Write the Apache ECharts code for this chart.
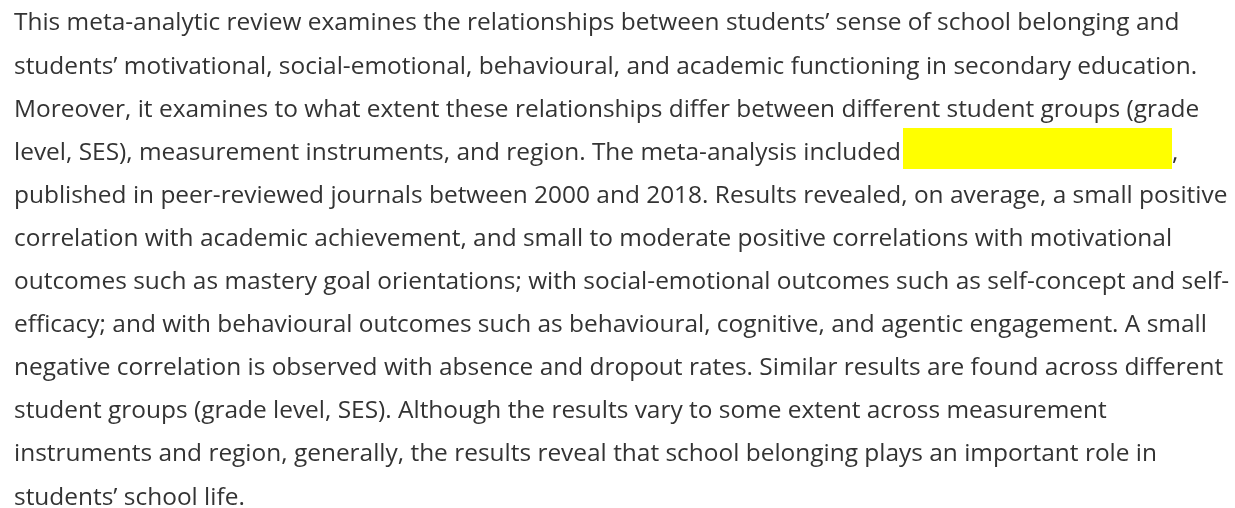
<!DOCTYPE html>
<html><head><meta charset="utf-8">
<script src="https://cdn.jsdelivr.net/npm/echarts@6/dist/echarts.min.js"></script>
<style>html,body{margin:0;padding:0;background:#fff}#c{width:1235px;height:508px}</style>
</head><body><div id="c"></div>
<script>
var lines = [
  "This meta-analytic review examines the relationships between students\u2019 sense of school belonging and",
  "students\u2019 motivational, social-emotional, behavioural, and academic functioning in secondary education.",
  "Moreover, it examines to what extent these relationships differ between different student groups (grade",
  "level, SES), measurement instruments, and region. The meta-analysis included ",
  "published in peer-reviewed journals between 2000 and 2018. Results revealed, on average, a small positive",
  "correlation with academic achievement, and small to moderate positive correlations with motivational",
  "outcomes such as mastery goal orientations; with social-emotional outcomes such as self-concept and self-",
  "efficacy; and with behavioural outcomes such as behavioural, cognitive, and agentic engagement. A small",
  "negative correlation is observed with absence and dropout rates. Similar results are found across different",
  "student groups (grade level, SES). Although the results vary to some extent across measurement",
  "instruments and region, generally, the results reveal that school belonging plays an important role in",
  "students\u2019 school life."
];
var highlightLine = 3;
var afterHighlight = ",";

var chart = echarts.init(document.getElementById('c'), null, {renderer: 'canvas'});
var font = '24.45px "Open Sans"';
var color = '#333333';
var x0 = 14, y0 = 23.5, lh = 43.1;
var els = [];
lines.forEach(function (t, i) {
  els.push({type: 'text', x: x0, y: y0 + i * lh,
    style: {text: t, font: font, fill: color, verticalAlign: 'middle', align: 'left'}});
});
var hy = y0 + highlightLine * lh;
els.push({type: 'rect', shape: {x: 903, y: 128, width: 269, height: 41}, style: {fill: '#ffff00'}});
els.push({type: 'text', x: 1172, y: hy,
  style: {text: afterHighlight, font: font, fill: color, verticalAlign: 'middle', align: 'left'}});
chart.setOption({animation: false, graphic: {elements: els}});
</script></body></html>
